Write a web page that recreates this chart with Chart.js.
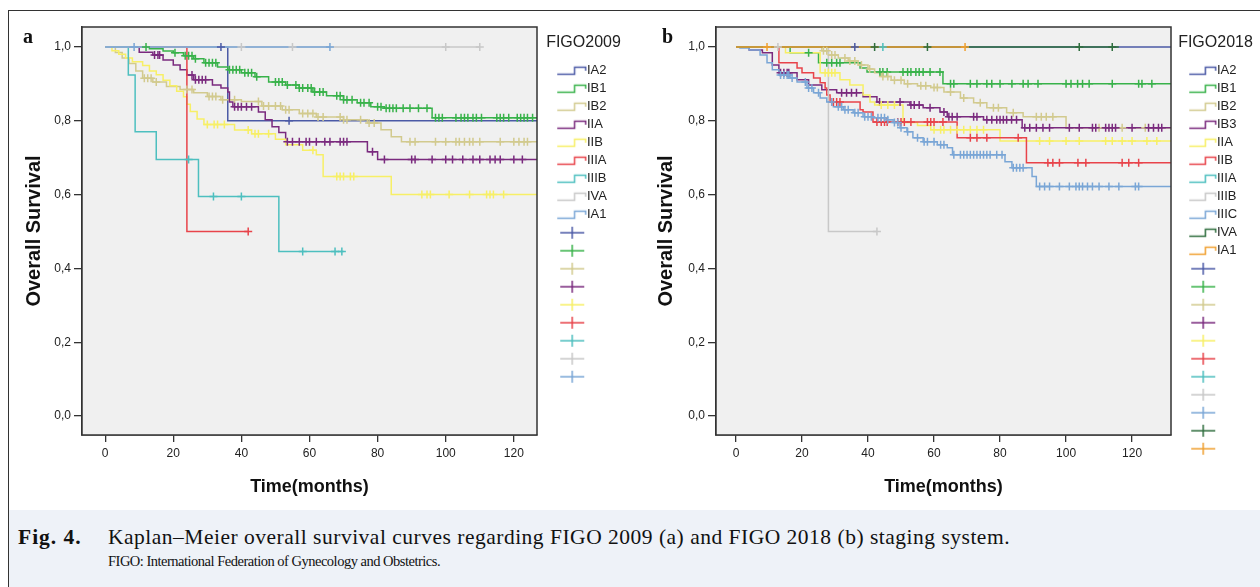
<!DOCTYPE html>
<html>
<head>
<meta charset="utf-8">
<script src="https://cdn.jsdelivr.net/npm/chart.js@4.4.1/dist/chart.umd.min.js"></script>
<style>
  body { margin: 0; width: 1260px; height: 587px; position: relative; overflow: hidden; background: #fff; }
  .frame { position: absolute; left: 8px; top: 10px; width: 1260px; height: 590px; border-top: 1.5px solid #333; border-left: 1.5px solid #333; }
  .cap { position: absolute; left: 9px; top: 510px; width: 1251px; height: 77px; background: #eef2f8; }
  canvas { position: absolute; top: 0; }
  .panel { position: absolute; font: bold 20px 'Liberation Serif', serif; line-height: 20px; color: #111; }
  .line1 { position: absolute; top: 526px; font: 21.5px 'Liberation Serif', serif; line-height: 22px; letter-spacing: 0.5px; color: #111; white-space: nowrap; }
  .line2 { position: absolute; top: 554px; left: 108px; font: 14.5px 'Liberation Serif', serif; line-height: 15px; letter-spacing: -0.5px; color: #111; white-space: nowrap; }
</style>
</head>
<body>
<div class="frame"></div>
<div class="cap"></div>
<canvas id="chartA" width="630" height="510" style="left:0"></canvas>
<canvas id="chartB" width="630" height="510" style="left:630px"></canvas>
<div class="panel" style="left:23px; top:26px">a</div>
<div class="panel" style="left:662px; top:26px">b</div>
<div class="line1" style="left:18px; font-weight:bold; letter-spacing:1px">Fig. 4.</div>
<div class="line1" style="left:108px">Kaplan–Meier overall survival curves regarding FIGO 2009 (a) and FIGO 2018 (b) staging system.</div>
<div class="line2">FIGO: International Federation of Gynecology and Obstetrics.</div>
<script>
Chart.defaults.font.family = "'Liberation Sans', Arial, sans-serif";
Chart.defaults.color = '#222';

const xTickValues = [0, 20, 40, 60, 80, 100, 120];
const xTickLabels = ['0', '20', '40', '60', '80', '100', '120'];
const yTickValues = [0, 0.2, 0.4, 0.6, 0.8, 1.0];
const yTickLabels = ['0,0', '0,2', '0,4', '0,6', '0,8', '1,0'];

// ---- panel a : FIGO 2009 ----
const stagesA = ['IA2', 'IB1', 'IB2', 'IIA', 'IIB', 'IIIA', 'IIIB', 'IVA', 'IA1'];
const colorsA = ['#4b5aa6', '#38b24a', '#d2ca8e', '#7a2a7e', '#f7ef66', '#e8434a', '#4dbfbf', '#c8c8c8', '#7aa6d6'];

const aIA2Time = [0, 36, 130];
const aIA2Surv = [1, 0.8, 0.8];
const aIA2Cens = [34, 54];

const aIB1Time = [0, 13, 17, 20, 23, 26, 29, 33, 36, 40, 44, 48, 53, 57, 61, 65, 70, 74, 78, 82, 96, 130];
const aIB1Surv = [1, .995, .989, .984, .976, .968, .957, .946, .938, .930, .919, .905, .897, .889, .878, .868, .857, .849, .838, .834, .808, .808];
const aIB1Cens = [12, 20.5, 23.5, 24.5, 25.5, 26.5, 29.5, 30.5, 31.5, 32.5, 36.5, 37.5, 38.5, 39.5, 41, 42, 43, 44.5, 50, 51, 52, 53.5, 56, 57, 58, 59.5, 60.5, 61.5, 63, 64, 68, 69, 70, 71, 72.5, 75, 76, 77.5, 80, 81, 82.5, 83.5, 84.5, 85.5, 87.5, 89.5, 92, 94.5, 97, 98, 99, 103, 104.5, 105.5, 106.5, 108, 109, 110.5, 115, 116, 117, 118.5, 121, 122, 123, 124, 125.5];

const aIB2Time = [0, 3, 5, 7, 9, 11, 14, 18, 22, 26, 30, 34, 40, 46, 52, 57, 62, 70, 77, 81, 84, 87, 130];
const aIB2Surv = [1, .985, .97, .955, .935, .915, .905, .893, .885, .876, .866, .857, .852, .84, .83, .82, .81, .803, .794, .776, .757, .743, .743];
const aIB2Cens = [11.5, 12.5, 13.5, 15, 24, 25.5, 30.5, 31.5, 32.5, 34.5, 38, 45, 46.5, 48, 50, 51.5, 53, 54, 58, 59.5, 61, 62.5, 64, 69, 70, 71, 75, 77.5, 79, 89.5, 91, 97, 100, 103, 104, 105.5, 107, 108, 110, 116, 120, 121.5, 123, 124];

const aIIATime = [0, 10, 14, 17, 20, 22, 24, 26, 31.5, 34, 36, 36.5, 37.5, 45, 47, 49, 51, 53, 77, 80, 130];
const aIIASurv = [1, .986, .978, .965, .951, .938, .924, .911, .897, .889, .878, .851, .838, .824, .803, .784, .768, .743, .716, .695, .695];
const aIIACens = [14.5, 15.5, 16, 25.5, 26.5, 27.5, 28.5, 29.5, 38, 39, 40, 41.5, 43, 53.5, 55, 57, 59, 60, 62, 64.5, 66, 69, 70, 71, 78.5, 82, 90, 91, 96, 100, 102, 105, 108, 110, 113, 114.5, 116, 120, 122.5];

const aIIBTime = [0, 2, 4, 6, 8, 11, 13, 15, 17, 19, 21, 23, 24, 25, 27, 29, 38, 43, 50, 53, 58, 62, 64, 84, 130];
const aIIBSurv = [1, .99, .98, .97, .96, .95, .935, .925, .91, .895, .88, .865, .845, .825, .805, .79, .775, .765, .75, .735, .72, .708, .649, .60, .60];
const aIIBCens = [30, 32, 33, 35, 42, 44, 45, 48, 61, 68, 69, 70, 72, 73, 93, 94.5, 95.5, 101, 107, 112, 113, 114, 117];

const aIIIATime = [0, 24, 42];
const aIIIASurv = [1, .5, .5];
const aIIIACens = [42];

const aIIIBTime = [0, 6.8, 8.8, 15, 27.4, 51, 70];
const aIIIBSurv = [1, .924, .770, .695, .595, .446, .446];
const aIIIBCens = [24.5, 31.8, 40, 58, 67.5, 69.5];

const aIVATime = [0, 110];
const aIVASurv = [1, 1];
const aIVACens = [40, 55, 100, 110];

const aIA1Time = [0, 66];
const aIA1Surv = [1, 1];
const aIA1Cens = [8.5, 66];

// ---- panel b : FIGO 2018 ----
const stagesB = ['IA2', 'IB1', 'IB2', 'IB3', 'IIA', 'IIB', 'IIIA', 'IIIB', 'IIIC', 'IVA', 'IA1'];
const colorsB = ['#4b5aa6', '#38b24a', '#d2ca8e', '#7a2a7e', '#f7ef66', '#e8434a', '#4dbfbf', '#c8c8c8', '#7aa6d6', '#2f6e3e', '#f0a030'];

const bIA2Time = [0, 135];
const bIA2Surv = [1, 1];
const bIA2Cens = [36];

const bIB1Time = [0, 16.4, 25, 37.6, 39.7, 62.7, 135];
const bIB1Surv = [1, .984, .957, .943, .932, .90, .90];
const bIB1Cens = [22, 27.5, 29, 30.5, 31.5, 43.6, 44.5, 45.8, 50.6, 52, 53, 54.5, 55.5, 56.7, 58.8, 61.8, 65, 66, 71, 73, 76, 77.5, 80, 83.6, 87, 88.5, 91.5, 100, 101.5, 103.5, 105, 107, 114, 122, 123, 126];

const bIB2Time = [0, 26, 28, 31, 34, 37, 40, 42, 44, 47, 51, 55, 59, 63, 68, 72, 76, 82, 87, 100, 135];
const bIB2Surv = [1, .99, .978, .97, .962, .951, .94, .93, .92, .91, .9, .895, .89, .878, .862, .849, .835, .822, .811, .781, .781];
const bIB2Cens = [26.5, 27.5, 29, 30, 33, 34.5, 36, 38, 40.5, 44.5, 46, 48, 50, 52, 56, 57.5, 60, 61, 65, 69, 74, 78, 79.5, 84, 91, 92.5, 94, 96, 110, 117, 124];

const bIB3Time = [0, 4, 8, 11, 13, 18.5, 22, 26, 30.5, 38.5, 42.7, 52.7, 56.7, 61.8, 64, 75, 86.7, 135];
const bIB3Surv = [1, .992, .984, .951, .93, .911, .897, .884, .876, .865, .851, .843, .835, .824, .811, .803, .781, .781];
const bIB3Cens = [13.5, 14.5, 15.5, 16, 32, 33.5, 35, 36.5, 43.5, 49.7, 53, 54, 55.5, 58.8, 63, 64.5, 65.5, 67, 72, 73, 76, 77.5, 79, 80, 81, 82, 83.5, 85, 87.5, 89, 91, 93, 95, 101, 104, 108, 109, 112, 113, 114, 115, 120, 125, 126.5, 128, 129];

const bIIATime = [0, 15, 25.5, 31.5, 34.5, 38.5, 40.6, 42, 50.6, 55, 59, 80, 135];
const bIIASurv = [1, .984, .93, .911, .897, .870, .851, .843, .795, .787, .776, .745, .745];
const bIIACens = [27, 28, 29, 30, 44, 46, 48, 60, 62, 63, 65, 67, 69, 71, 73, 75, 92, 95, 100, 104, 112, 114, 117, 120, 124.5, 127.5];

const bIIBTime = [0, 13, 18.5, 20, 23.5, 25.5, 27, 27.5, 28.5, 37.6, 38.5, 41.5, 67, 88, 135];
const bIIBSurv = [1, .957, .943, .930, .916, .903, .889, .870, .851, .830, .824, .797, .754, .686, .686];
const bIIBCens = [29.5, 30.5, 31.5, 42.7, 44, 45, 45.8, 49, 50, 51, 53, 58, 59, 60, 62.7, 71, 73, 76, 85.5, 94.5, 96, 98, 103.6, 106, 117, 119, 122];

const bIIIATime = [0, 44.5];
const bIIIASurv = [1, 1];
const bIIIACens = [44.5];

const bIIIBTime = [0, 28, 42.7];
const bIIIBSurv = [1, .5, .5];
const bIIIBCens = [12.7, 42.7];

const bIIICTime = [0, 1.2, 4, 7.3, 9.4, 11, 13, 16.4, 18.5, 21.5, 23.5, 25.5, 27.5, 29.5, 32.5, 35.5, 38.5, 41.5, 45.8, 47.6, 49.7, 51.8, 53.6, 56.7, 61, 64, 65.6, 81.5, 83.6, 89.7, 91, 135];
const bIIICSurv = [1, .997, .992, .978, .957, .938, .924, .916, .905, .889, .876, .862, .851, .838, .830, .822, .811, .808, .803, .795, .781, .770, .754, .743, .735, .727, .708, .689, .673, .649, .622, .622];
const bIIICCens = [13.5, 14.5, 15.5, 16, 17, 21, 22, 23, 25, 29, 31, 32, 33, 34, 36, 37, 39, 40, 41, 43, 44, 45, 46, 48, 49, 50, 52, 55, 57, 58, 60, 62, 63, 66, 68, 69, 70, 71, 72, 73, 74, 75, 76, 77, 79, 80.6, 84, 85, 86, 87, 92, 93.5, 95, 98, 101, 103, 104, 105, 106.5, 108, 110, 113, 116, 121, 122];

const bIVATime = [0, 116];
const bIVASurv = [1, 1];
const bIVACens = [42, 58, 104, 114];

const bIA1Time = [0, 69.4];
const bIA1Surv = [1, 1];
const bIA1Cens = [9.4, 69.4];

const curvesA = [
	[aIA2Time, aIA2Surv, aIA2Cens], [aIB1Time, aIB1Surv, aIB1Cens], [aIB2Time, aIB2Surv, aIB2Cens],
	[aIIATime, aIIASurv, aIIACens], [aIIBTime, aIIBSurv, aIIBCens], [aIIIATime, aIIIASurv, aIIIACens],
	[aIIIBTime, aIIIBSurv, aIIIBCens], [aIVATime, aIVASurv, aIVACens], [aIA1Time, aIA1Surv, aIA1Cens]
];
const curvesB = [
	[bIA2Time, bIA2Surv, bIA2Cens], [bIB1Time, bIB1Surv, bIB1Cens], [bIB2Time, bIB2Surv, bIB2Cens],
	[bIB3Time, bIB3Surv, bIB3Cens], [bIIATime, bIIASurv, bIIACens], [bIIBTime, bIIBSurv, bIIBCens],
	[bIIIATime, bIIIASurv, bIIIACens], [bIIIBTime, bIIIBSurv, bIIIBCens], [bIIICTime, bIIICSurv, bIIICCens],
	[bIVATime, bIVASurv, bIVACens], [bIA1Time, bIA1Surv, bIA1Cens]
];

// value of the step curve at time t (where a censored case sits)
function survivalAt(times, survs, t) {
	var s = survs[0];
	for (var i = 0; i < times.length; i++) {
		if (times[i] <= t) s = survs[i];
	}
	return s;
}

// small legend symbols, SPSS style
function makeIcon(kind, color, w, stepW) {
	var c = document.createElement('canvas');
	c.width = w;
	c.height = 14;
	var g = c.getContext('2d');
	g.strokeStyle = color;
	g.lineWidth = 1.5;
	g.beginPath();
	if (kind === 'step') {
		var mid = w - stepW * 0.42;
		g.moveTo(w - stepW, 10.5);
		g.lineTo(mid, 10.5);
		g.lineTo(mid, 3.5);
		g.lineTo(w - 1.5, 3.5);
		g.lineTo(w - 1.5, 7);
	} else {
		var cx = w - stepW / 2;
		g.moveTo(cx - 12, 7);
		g.lineTo(cx + 12, 7);
		g.moveTo(cx, 1);
		g.lineTo(cx, 13);
	}
	g.stroke();
	return c;
}

var plotFrame = {
	id : 'plotFrame',
	beforeDatasetsDraw : function(chart) {
		var a = chart.chartArea, ctx = chart.ctx;
		ctx.save();
		ctx.fillStyle = '#f0f0f0';
		ctx.fillRect(a.left, a.top, a.right - a.left, a.bottom - a.top);
		ctx.restore();
	},
	afterDraw : function(chart) {
		var a = chart.chartArea, ctx = chart.ctx;
		ctx.save();
		ctx.strokeStyle = '#333';
		ctx.lineWidth = 1.5;
		ctx.strokeRect(a.left, a.top, a.right - a.left, a.bottom - a.top);
		ctx.restore();
	}
};

var legendWidth = {
	id : 'legendWidth',
	beforeLayout : function(chart, args, opts) {
		var lg = chart.legend;
		if (lg && !lg._fixedWidth) {
			var fit = lg.fit;
			lg.fit = function() {
				fit.call(this);
				this.width = opts.width;
			};
			lg._fixedWidth = true;
		}
	}
};

function drawPanel(id, stages, colors, curves, cfg) {
	var datasets = [];
	stages.forEach(function(st, i) {
		var c = curves[i];
		datasets.push({
			label : st,
			data : c[0].map(function(t, k) { return {x : t, y : c[1][k]}; }),
			showLine : true,
			stepped : true,
			borderColor : colors[i],
			borderWidth : 1.5,
			pointRadius : 0,
			order : 100 - i,
			icon : makeIcon('step', colors[i], cfg.iconW, cfg.stepW)
		});
	});
	stages.forEach(function(st, i) {
		var c = curves[i];
		datasets.push({
			label : '',
			data : c[2].map(function(t) { return {x : t, y : survivalAt(c[0], c[1], t)}; }),
			showLine : false,
			pointStyle : 'cross',
			pointRadius : 4,
			borderColor : colors[i],
			borderWidth : 1.5,
			order : 50 - i,
			icon : makeIcon('cross', colors[i], cfg.iconW, cfg.stepW)
		});
	});

	return new Chart(document.getElementById(id), {
		type : 'scatter',
		data : {datasets : datasets},
		plugins : [plotFrame, legendWidth],
		options : {
			responsive : false,
			animation : false,
			devicePixelRatio : 1,
			layout : {padding : {top : 27, bottom : 10, left : 10, right : 0}},
			scales : {
				x : {
					type : 'linear',
					min : cfg.xMin,
					max : cfg.xMax,
					afterBuildTicks : function(s) { s.ticks = xTickValues.map(function(v) { return {value : v}; }); },
					afterFit : function(s) { s.height = 65; },
					ticks : {
						font : {size : 12},
						color : '#222',
						padding : 4,
						maxRotation : 0,
						autoSkip : false,
						callback : function(v, i) { return xTickLabels[i]; }
					},
					grid : {drawOnChartArea : false, tickLength : 7, color : '#333', lineWidth : 1.3},
					border : {color : '#333', width : 1.5},
					title : {display : true, text : 'Time(months)', color : '#111', font : {size : 18, weight : 'bold'}, padding : {top : 0, bottom : 2}}
				},
				y : {
					type : 'linear',
					min : -0.0514,
					max : 1.0541,
					afterBuildTicks : function(s) { s.ticks = yTickValues.map(function(v) { return {value : v}; }); },
					afterFit : function(s) { s.width = cfg.yWidth; },
					ticks : {
						font : {size : 12},
						color : '#222',
						padding : 3,
						callback : function(v, i) { return yTickLabels[i]; }
					},
					grid : {drawOnChartArea : false, tickLength : 8, color : '#333', lineWidth : 1.3},
					border : {color : '#333', width : 1.5},
					title : {display : true, text : 'Overall Survival', color : '#111', font : {size : 20, weight : 'bold'}, padding : {top : cfg.yTitlePad, bottom : 0}}
				}
			},
			plugins : {
				tooltip : {enabled : false},
				legendWidth : {width : cfg.legendW},
				legend : {
					display : true,
					position : 'right',
					align : 'start',
					title : {display : true, text : cfg.title, color : '#222', position : 'center', font : {size : 16}, padding : {top : 8, bottom : 5}},
					labels : {
						usePointStyle : true,
						pointStyleWidth : cfg.boxW,
						padding : 5,
						color : '#222',
						font : {size : 13},
						generateLabels : function(chart) {
							return chart.data.datasets.map(function(ds, i) {
								return {
									text : ds.label,
									pointStyle : ds.icon,
									fillStyle : 'rgba(0,0,0,0)',
									strokeStyle : 'rgba(0,0,0,0)',
									fontColor : '#222',
									lineWidth : 0,
									hidden : false,
									datasetIndex : i
								};
							});
						}
					}
				}
			}
		}
	});
}

drawPanel('chartA', stagesA, colorsA, curvesA, {
	xMin : -6.8, xMax : 126.8, yWidth : 72, yTitlePad : 12, legendW : 93,
	boxW : 38.5, iconW : 52, stepW : 30, title : 'FIGO2009'
});
drawPanel('chartB', stagesB, colorsB, curvesB, {
	xMin : -6.06, xMax : 131.8, yWidth : 76, yTitlePad : 14, legendW : 89,
	boxW : 34.5, iconW : 48, stepW : 28, title : 'FIGO2018'
});
</script>
</body>
</html>
